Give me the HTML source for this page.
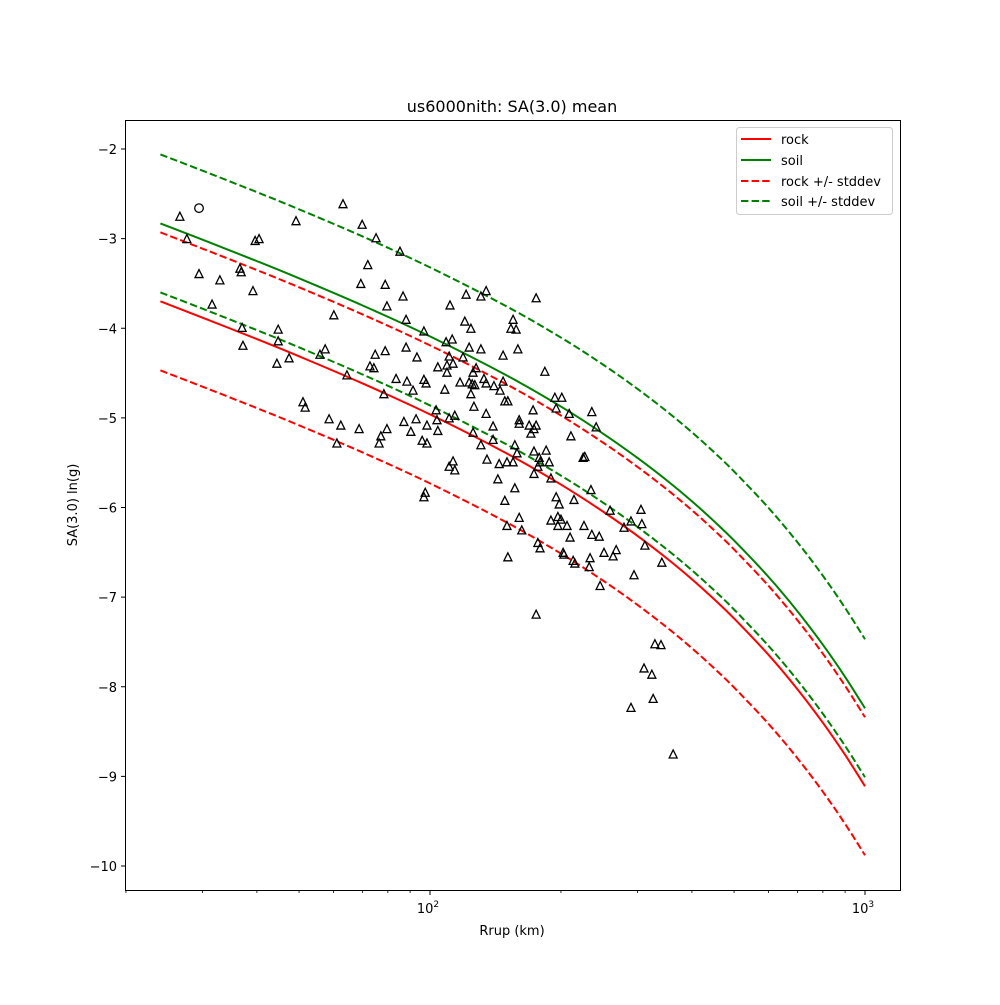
<!DOCTYPE html>
<html><head><meta charset="utf-8"><style>
body{margin:0;background:#fff}
svg{font-family:"DejaVu Sans","Liberation Sans",sans-serif}
</style></head><body>
<svg id="chart" width="1000" height="1000" viewBox="0 0 1000 1000" xmlns="http://www.w3.org/2000/svg">
<rect width="1000" height="1000" fill="#fff"/>
<text x="512" y="112" font-size="16" text-anchor="middle">us6000nith: SA(3.0) mean</text>
<text x="512" y="935" font-size="13" text-anchor="middle">Rrup (km)</text>
<text x="0" y="0" font-size="13" text-anchor="middle" transform="translate(77,505) rotate(-90)">SA(3.0) ln(g)</text>
<g id="plot"></g>
<g id="axes"></g>
<rect x="125.5" y="120.5" width="775" height="770" fill="none" stroke="#000" stroke-width="1"/>
<g>
<rect x="736.5" y="127.5" width="156" height="87" rx="3" fill="#fff" fill-opacity="0.8" stroke="#ccc"/>
<g><line x1="741" y1="139" x2="771" y2="139" stroke="#ff0000" stroke-width="2"/><text x="781" y="144" font-size="13">rock</text></g>
<g><line x1="741" y1="160" x2="771" y2="160" stroke="#008000" stroke-width="2"/><text x="781" y="165" font-size="13">soil</text></g>
<g><line x1="741" y1="181" x2="771" y2="181" stroke="#ff0000" stroke-width="2" stroke-dasharray="7.4,3.2"/><text x="781" y="186" font-size="13">rock +/- stddev</text></g>
<g><line x1="741" y1="201" x2="771" y2="201" stroke="#008000" stroke-width="2" stroke-dasharray="7.4,3.2"/><text x="781" y="206" font-size="13">soil +/- stddev</text></g>
</g>
</svg>
<script>
const curveRrup = [24,30,40,50,70,100,150,200,250,300,350,400,450,500,600,700,800,900,1000];
const rockMean = [-3.700,-3.882,-4.121,-4.313,-4.616,-4.961,-5.396,-5.744,-6.046,-6.317,-6.566,-6.800,-7.024,-7.238,-7.644,-8.030,-8.401,-8.760,-9.110];
const soilMean = [-2.830,-3.012,-3.251,-3.443,-3.746,-4.091,-4.526,-4.874,-5.176,-5.447,-5.696,-5.930,-6.154,-6.368,-6.774,-7.160,-7.531,-7.890,-8.240];
const rockPlus = [-2.930,-3.112,-3.351,-3.543,-3.846,-4.191,-4.626,-4.974,-5.276,-5.547,-5.796,-6.030,-6.254,-6.468,-6.874,-7.260,-7.631,-7.990,-8.340];
const rockMinus = [-4.470,-4.652,-4.891,-5.083,-5.386,-5.731,-6.166,-6.514,-6.816,-7.087,-7.336,-7.570,-7.794,-8.008,-8.414,-8.800,-9.171,-9.530,-9.880];
const soilPlus = [-2.060,-2.242,-2.481,-2.673,-2.976,-3.321,-3.756,-4.104,-4.406,-4.677,-4.926,-5.160,-5.384,-5.598,-6.004,-6.390,-6.761,-7.120,-7.470];
const soilMinus = [-3.600,-3.782,-4.021,-4.213,-4.516,-4.861,-5.296,-5.644,-5.946,-6.217,-6.466,-6.700,-6.924,-7.138,-7.544,-7.930,-8.301,-8.660,-9.010];
const stationLog10Rrup = [1.425,1.441,1.692,1.800,1.598,1.607,1.844,1.876,1.931,1.469,1.517,1.563,1.566,1.593,1.857,1.841,1.897,1.938,1.901,1.499,1.779,1.945,1.986,1.568,1.651,1.651,1.570,1.759,1.747,1.676,1.648,1.874,1.897,1.945,1.970,1.862,1.871,1.809,1.922,1.947,1.986,1.991,1.961,1.894,1.708,1.713,1.768,1.795,1.837,1.940,1.968,1.993,1.901,1.887,1.956,1.786,1.883,1.982,1.993,1.989,1.986,2.046,2.083,2.117,2.129,2.244,2.080,2.094,2.191,2.186,2.198,2.051,2.037,2.090,2.117,2.202,2.168,2.044,2.076,2.053,2.018,2.039,2.039,2.106,2.099,2.264,2.069,2.090,2.097,2.103,2.124,2.129,2.147,2.168,2.161,2.034,2.094,2.172,2.179,2.101,2.237,2.287,2.303,2.290,2.129,2.014,2.057,2.044,2.016,2.018,2.145,2.205,2.205,2.228,2.244,2.239,2.232,2.099,2.117,2.145,2.195,2.200,2.239,2.267,2.251,2.253,2.248,2.274,2.239,2.278,2.053,2.044,2.057,2.131,2.159,2.177,2.191,2.156,2.195,2.290,2.172,2.320,2.372,2.382,2.324,2.352,2.356,2.370,2.331,2.297,2.414,2.485,2.462,2.487,2.446,2.494,2.533,2.278,2.294,2.301,2.294,2.315,2.354,2.205,2.177,2.211,2.322,2.372,2.389,2.248,2.253,2.400,2.428,2.421,2.306,2.308,2.329,2.333,2.368,2.366,2.179,2.469,2.391,2.244,2.517,2.531,2.492,2.510,2.513,2.462,2.559];
const stationSA = [-2.75,-3.00,-2.80,-2.61,-3.02,-3.00,-2.84,-2.99,-3.14,-3.39,-3.46,-3.33,-3.37,-3.58,-3.29,-3.50,-3.51,-3.64,-3.75,-3.73,-3.85,-3.90,-4.03,-3.99,-4.01,-4.14,-4.19,-4.23,-4.29,-4.33,-4.39,-4.29,-4.25,-4.21,-4.32,-4.42,-4.44,-4.52,-4.56,-4.59,-4.57,-4.61,-4.69,-4.73,-4.82,-4.88,-5.01,-5.08,-5.12,-5.04,-5.01,-5.08,-5.12,-5.20,-5.15,-5.28,-5.28,-5.25,-5.28,-5.83,-5.88,-3.74,-3.62,-3.64,-3.58,-3.66,-3.92,-4.00,-3.90,-4.00,-4.01,-4.12,-4.15,-4.21,-4.23,-4.23,-4.30,-4.31,-4.32,-4.39,-4.43,-4.41,-4.49,-4.44,-4.49,-4.48,-4.60,-4.60,-4.62,-4.63,-4.56,-4.61,-4.64,-4.59,-4.69,-4.68,-4.73,-4.81,-4.81,-4.87,-4.91,-4.77,-4.77,-4.89,-4.95,-4.91,-4.97,-5.00,-5.02,-5.14,-5.09,-5.02,-5.06,-5.08,-5.08,-5.12,-5.17,-5.16,-5.30,-5.24,-5.30,-5.39,-5.37,-5.36,-5.44,-5.49,-5.54,-5.49,-5.62,-5.67,-5.48,-5.54,-5.58,-5.46,-5.51,-5.49,-5.49,-5.68,-5.78,-5.88,-5.92,-4.95,-4.93,-5.10,-5.20,-5.44,-5.43,-5.80,-5.91,-5.96,-6.03,-6.02,-6.15,-6.18,-6.22,-6.42,-6.61,-6.14,-6.10,-6.13,-6.20,-6.20,-6.20,-6.11,-6.20,-6.25,-6.33,-6.30,-6.32,-6.39,-6.45,-6.50,-6.47,-6.54,-6.50,-6.52,-6.59,-6.62,-6.56,-6.66,-6.55,-6.75,-6.87,-7.19,-7.52,-7.53,-7.79,-7.86,-8.13,-8.23,-8.75];
const circleLog10Rrup = [1.469];
const circleSA = [-2.66];
const yTicks = [-2,-3,-4,-5,-6,-7,-8,-9,-10];
const yTickLabels = ["\u22122","\u22123","\u22124","\u22125","\u22126","\u22127","\u22128","\u22129","\u221210"];
const xTicks = [100,1000];
const xTickLabels = ["10","10"];
const xTickExps = ["2","3"];

const NS = "http://www.w3.org/2000/svg";
const X0 = 125, X1 = 900, Y0 = 120, Y1 = 890;
const xLogMin = 2 - 305/435, xLogMax = 3 + 35/435;
const yMax = -2 + 29/89.625, yMin = -10 - 24/89.625;
function xs(r){ return X0 + (Math.log10(r) - xLogMin) / (xLogMax - xLogMin) * (X1 - X0); }
function ys(v){ return Y0 + (yMax - v) / (yMax - yMin) * (Y1 - Y0); }
function mk(tag, attrs, parent){ const e = document.createElementNS(NS, tag); for (const k in attrs) e.setAttribute(k, attrs[k]); parent.appendChild(e); return e; }

const plot = document.getElementById('plot');
const axes = document.getElementById('axes');

function smoothPath(px){
  let d = "M" + px[0][0].toFixed(2) + "," + px[0][1].toFixed(2);
  for (let i = 0; i < px.length - 1; i++){
    const p0 = px[Math.max(0,i-1)], p1 = px[i], p2 = px[i+1], p3 = px[Math.min(px.length-1,i+2)];
    const c1x = p1[0] + (p2[0]-p0[0])/6, c1y = p1[1] + (p2[1]-p0[1])/6;
    const c2x = p2[0] - (p3[0]-p1[0])/6, c2y = p2[1] - (p3[1]-p1[1])/6;
    d += " C" + c1x.toFixed(2) + "," + c1y.toFixed(2) + " " + c2x.toFixed(2) + "," + c2y.toFixed(2) + " " + p2[0].toFixed(2) + "," + p2[1].toFixed(2);
  }
  return d;
}
const series = [
  ['rock-line', rockMean, '#ff0000', false],
  ['soil-line', soilMean, '#008000', false],
  ['rock-plus-stddev-line', rockPlus, '#ff0000', true],
  ['rock-minus-stddev-line', rockMinus, '#ff0000', true],
  ['soil-plus-stddev-line', soilPlus, '#008000', true],
  ['soil-minus-stddev-line', soilMinus, '#008000', true]
];
for (const s of series){
  const pts = curveRrup.map((r, i) => [xs(r), ys(s[1][i])]);
  const p = mk('path', {d: smoothPath(pts), fill: 'none', stroke: s[2], 'stroke-width': 2}, plot);
  if (s[3]) p.setAttribute('stroke-dasharray', '7.4,3.2');
  
  
}
for (let i = 0; i < stationLog10Rrup.length; i++){
  const cx = xs(Math.pow(10, stationLog10Rrup[i])), cy = ys(stationSA[i]);
  const t = mk('polygon', {points: cx+","+(cy-4)+" "+(cx-4)+","+(cy+4)+" "+(cx+4)+","+(cy+4), fill: 'none', stroke: '#000', 'stroke-width': 1.3}, plot);
  
  
}
for (let i = 0; i < circleLog10Rrup.length; i++){
  const c = mk('circle', {cx: xs(Math.pow(10, circleLog10Rrup[i])), cy: ys(circleSA[i]), r: 4.3, fill: 'none', stroke: '#000', 'stroke-width': 1.3}, plot);
  
  
}
yTicks.forEach((v, i) => {
  const y = ys(v);
  const l = mk('line', {x1: 125.5, x2: 121, y1: y, y2: y, stroke: '#000', 'stroke-width': 1}, axes);
  
  
  const t = mk('text', {x: 117, y: y + 5, 'font-size': 13, 'text-anchor': 'end'}, axes);
  t.textContent = yTickLabels[i];
  
  
});
xTicks.forEach((v, i) => {
  const x = xs(v);
  const l = mk('line', {x1: x, x2: x, y1: 890.5, y2: 895, stroke: '#000', 'stroke-width': 1}, axes);
  
  
  const t = mk('text', {x: x - 2, y: 913, 'font-size': 13, 'text-anchor': 'middle'}, axes);
  t.textContent = xTickLabels[i];
  const sup = mk('tspan', {dy: -6, 'font-size': 9}, t);
  sup.textContent = xTickExps[i];
  
  
});
[20,30,40,50,60,70,80,90,200,300,400,500,600,700,800,900].forEach(v => {
  const x = xs(v);
  if (x < X0 || x > X1) return;
  const l = mk('line', {x1: x, x2: x, y1: 890.5, y2: 893, stroke: '#000', 'stroke-width': 0.8}, axes);
  
  
});
</script>
</body></html>
